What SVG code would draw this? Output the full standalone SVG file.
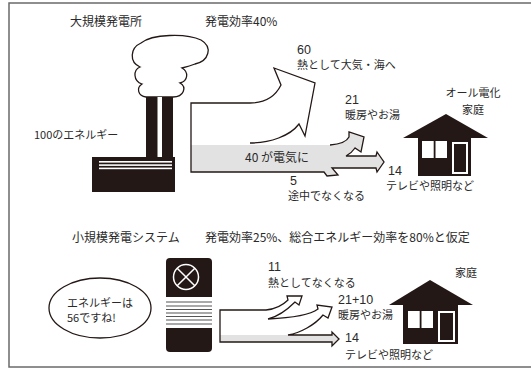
<svg xmlns="http://www.w3.org/2000/svg" width="531" height="371" viewBox="0 0 531 371">
  <style>
    .t { font-family: "Noto Sans CJK JP", "Noto Sans", sans-serif; font-size: 11px; fill: #2a2a2a; }
    .h { font-size: 12px; }
    .n { font-family: "Liberation Sans", Arial, sans-serif; font-size: 12.5px; fill: #2a2a2a; }
    .ink { fill: #231815; }
    .line { fill: none; stroke: #231815; stroke-width: 1.3; stroke-linejoin: miter; }
    .band { fill: #e2e2e2; }
  </style>

  <!-- frame -->
  <rect x="9" y="3" width="530" height="364" fill="#fff" stroke="#6a6a6a" stroke-width="1.5"/>

  <!-- large power plant -->
  <g id="power-plant">
    <path d="M146,97 C138,96 136,88 142,84 C133,81 133,70 140,67 C129,62 130,48 141,43 C152,34 186,33 201,40 C213,47 209,61 195,64 C190,66 186,67 182,68 C189,72 188,81 180,83 C187,87 184,97 173,97 Z" fill="#fff" stroke="#231815" stroke-width="1.3"/>
    <rect class="ink" x="146" y="97" width="27" height="62"/>
    <rect x="157.5" y="97" width="4.5" height="60" fill="#fff"/>
    <rect class="ink" x="92" y="157" width="83" height="35"/>
    <rect x="99" y="161" width="73" height="1.6" fill="#fff"/>
    <rect x="99" y="164.3" width="73" height="1.6" fill="#fff"/>
    <rect x="99" y="167.6" width="73" height="1.6" fill="#fff"/>
  </g>

  <!-- small generator unit -->
  <g id="small-unit">
    <rect class="ink" x="166" y="258" width="46" height="94" rx="4"/>
    <circle cx="186" cy="277" r="12.5" fill="none" stroke="#fff" stroke-width="1.5"/>
    <path d="M177.2,268.2 L194.8,285.8 M194.8,268.2 L177.2,285.8" stroke="#fff" stroke-width="1.5"/>
    <rect x="166" y="297" width="46" height="31" fill="#fff"/>
    <g stroke="#555" stroke-width="1.2">
      <line x1="166" y1="302" x2="212" y2="302"/>
      <line x1="166" y1="306" x2="212" y2="306"/>
      <line x1="166" y1="309.5" x2="212" y2="309.5"/>
      <line x1="166" y1="313" x2="212" y2="313"/>
      <line x1="166" y1="316.5" x2="212" y2="316.5"/>
      <line x1="166" y1="320" x2="212" y2="320"/>
      <line x1="166" y1="324" x2="212" y2="324"/>
    </g>
  </g>

  <!-- all-electric home -->
  <g id="home-electric">
    <polygon class="ink" points="446,114 488,138 403,138"/>
    <rect class="ink" x="418" y="137" width="53" height="39"/>
    <rect x="422" y="141" width="25" height="17" fill="#fff"/>
    <rect class="ink" x="433.7" y="141" width="1.8" height="17"/>
    <rect x="452" y="142" width="16" height="32" fill="#fff"/>
    <rect class="ink" x="454" y="144" width="12" height="28"/>
  </g>

  <!-- home with small generator -->
  <g id="home-small">
    <polygon class="ink" points="430,280 473,305 389,305"/>
    <rect class="ink" x="403" y="304" width="55" height="40"/>
    <rect x="408" y="311" width="25" height="17" fill="#fff"/>
    <rect class="ink" x="419.7" y="311" width="1.8" height="17"/>
    <rect x="438" y="311" width="17" height="31" fill="#fff"/>
    <rect class="ink" x="440" y="313" width="13" height="27"/>
  </g>

  <!-- speech bubble -->
  <g id="bubble">
    <ellipse cx="100" cy="308" rx="51" ry="30" fill="#fff" stroke="#231815" stroke-width="1.3"/>
    <text class="t" x="67" y="307">エネルギーは</text>
    <text class="t" x="67" y="322">56ですね!</text>
  </g>

  <!-- energy flows -->
  <g id="connectors">
    <path class="band" d="M191,145 L330,145 C343,144 347,141 349,137 L349,132 L364,137 L361,152 L355,148 C353,151 350,154 346,156 L376,156 L377,152 L384,162 L377,172 L376,168 L332,168 L338,175 L327,176 L324,172 L191,172 Z"/>
    <path class="line" d="M250,143 C270,143 290,136 299,124 L305,136 L315,83 L274,68 L281,85 C275,97 265,103 250,103 L191,103 L191,172 L324,172 L327,176 L338,175 L332,168 L376,168 L377,172 L384,162 L377,152 L376,156 L346,156 C350,154 353,151 355,148 L361,152 L364,137 L349,132 L349,137 C347,141 343,144 330,145"/>

    <path class="band" d="M220,335 L332,335 L332,332 L339,339 L332,346 L332,342 L220,342 Z"/>
    <path class="line" d="M268,319 C290,318 310,315 318,309 L317,305 L332,307 L328,318 L323,315 C315,325 300,333 288,335 L332,335 L332,332 L339,339 L332,346 L332,342 L220,342 L220,310 L266,310 C276,309 283,305 288,300 L287,296 L302,296 L299,305 L295,302 C288,309 280,316 268,319"/>
  </g>

  <!-- labels -->
  <g id="labels">
    <text class="t h" x="70" y="26">大規模発電所</text>
    <text class="t h" x="205" y="26">発電効率40%</text>
    <text class="n" x="297" y="54">60</text>
    <text class="t" x="297" y="69">熱として大気・海へ</text>
    <text class="n" x="345" y="104">21</text>
    <text class="t" x="345" y="119">暖房やお湯</text>
    <text class="t" x="473" y="97" text-anchor="middle">オール電化</text>
    <text class="t" x="473" y="114" text-anchor="middle">家庭</text>
    <text class="t" x="34" y="139">100のエネルギー</text>
    <text class="t h" x="245" y="162">40 が電気に</text>
    <text class="n" x="290" y="185">5</text>
    <text class="t" x="288" y="200">途中でなくなる</text>
    <text class="n" x="388" y="175">14</text>
    <text class="t" x="386" y="190">テレビや照明など</text>

    <text class="t h" x="72" y="242">小規模発電システム</text>
    <text class="t h" x="205" y="242">発電効率25%、総合エネルギー効率を80%と仮定</text>
    <text class="n" x="268" y="271">11</text>
    <text class="t" x="268" y="287">熱としてなくなる</text>
    <text class="n" x="338" y="304">21+10</text>
    <text class="t" x="338" y="319">暖房やお湯</text>
    <text class="t" x="466" y="277" text-anchor="middle">家庭</text>
    <text class="n" x="345" y="342">14</text>
    <text class="t" x="345" y="359">テレビや照明など</text>
  </g>
</svg>
